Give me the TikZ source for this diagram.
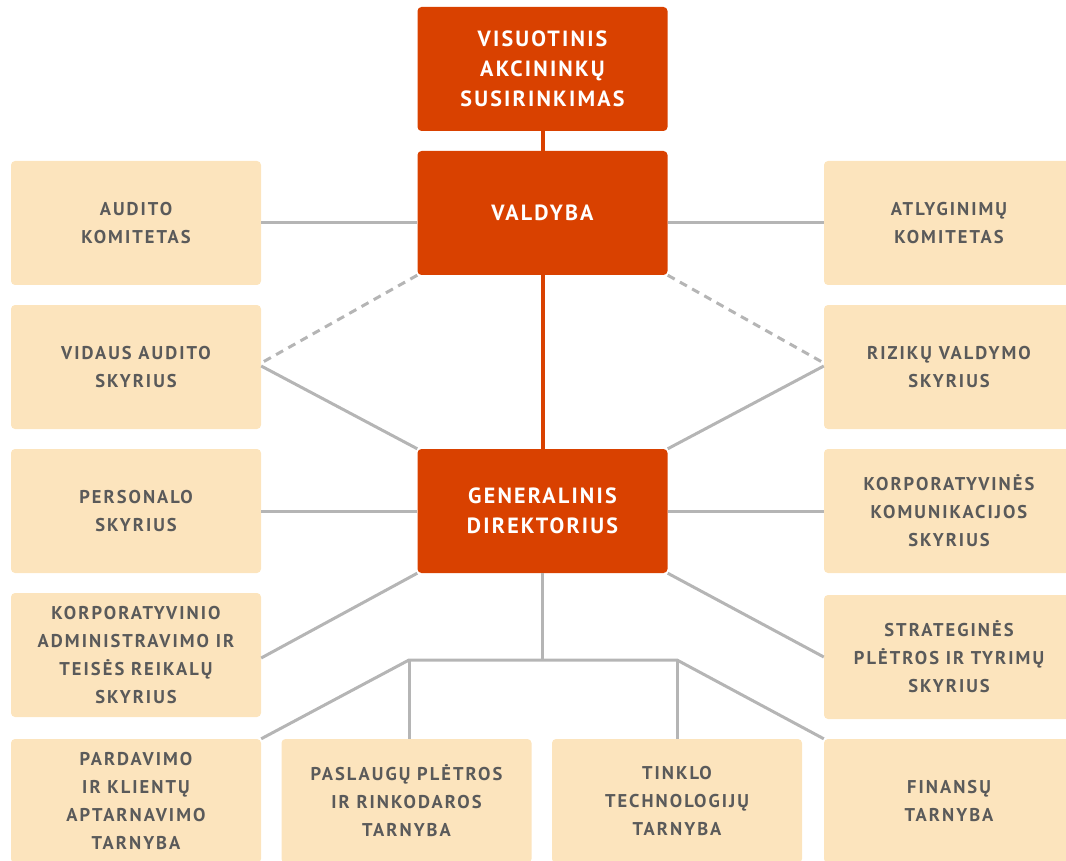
\documentclass[tikz,border=0pt]{standalone}
\usepackage{fontspec}
\setmainfont{PT Sans}
\newfontfamily\boxfont{PT Sans}[LetterSpace=11]
\newfontfamily\oboxfont{PT Sans}[LetterSpace=10]
\definecolor{org}{HTML}{D94100}
\definecolor{bei}{HTML}{FCE4BD}
\definecolor{txt}{HTML}{5A5A5A}
\definecolor{ln}{HTML}{B5B5B5}
\begin{document}
\begin{tikzpicture}[x=1pt,y=-1pt,
 box/.style={rectangle, rounded corners=4pt, minimum width=250pt, minimum height=124pt, inner sep=0pt, align=center, font=\boxfont\bfseries\fontsize{18.5}{28}\selectfont, text=txt, fill=bei},
 obox/.style={box, fill=org, text=white, font=\oboxfont\bfseries\fontsize{22}{30}\selectfont},
 gl/.style={draw=ln, line width=3pt},
 ol/.style={draw=org, line width=4pt},
 dl/.style={gl, dash pattern=on 8pt off 6pt}]
\useasboundingbox (0,0) rectangle (1066,861);
% orange
\node[obox] (top) at (542.5,69) {VISUOTINIS\\AKCININKŲ\\SUSIRINKIMAS};
\node[obox] (val) at (542.5,213) {VALDYBA};
\node[obox] (gen) at (542.5,511) {GENERALINIS\\DIREKTORIUS};
% left
\node[box] (aud) at (136,223) {AUDITO\\KOMITETAS};
\node[box] (vid) at (136,367) {VIDAUS AUDITO\\SKYRIUS};
\node[box] (per) at (136,511) {PERSONALO\\SKYRIUS};
\node[box] (kor) at (136,655) {KORPORATYVINIO\\ADMINISTRAVIMO IR\\TEISĖS REIKALŲ\\SKYRIUS};
\node[box] (par) at (136,801) {PARDAVIMO\\IR KLIENTŲ\\APTARNAVIMO\\TARNYBA};
% right
\node[box] (atl) at (949,223) {ATLYGINIMŲ\\KOMITETAS};
\node[box] (riz) at (949,367) {RIZIKŲ VALDYMO\\SKYRIUS};
\node[box] (kom) at (949,511) {KORPORATYVINĖS\\KOMUNIKACIJOS\\SKYRIUS};
\node[box] (str) at (949,657) {STRATEGINĖS\\PLĖTROS IR TYRIMŲ\\SKYRIUS};
\node[box] (fin) at (949,801) {FINANSŲ\\TARNYBA};
% bottom middle
\node[box] (pas) at (406.5,801) {PASLAUGŲ PLĖTROS\\IR RINKODAROS\\TARNYBA};
\node[box] (tin) at (677,801) {TINKLO\\TECHNOLOGIJŲ\\TARNYBA};
% connectors
\draw[ol] (top) -- (val);
\draw[ol] (val) -- (gen);
\draw[gl] (aud.east) -- (aud.east -| val.west);
\draw[gl] (atl.west) -- (atl.west -| val.east);
\draw[dl] (val.south west) -- ([yshift=4pt]vid.east);
\draw[dl] (val.south east) -- ([yshift=4pt]riz.west);
\draw[gl] ([yshift=1pt]vid.east) -- (gen.north west);
\draw[gl] ([yshift=1pt]riz.west) -- (gen.north east);
\draw[gl] (per.east) -- (gen.west);
\draw[gl] (kom.west) -- (gen.east);
\draw[gl] (gen.south west) -- ([yshift=-3pt]kor.east);
\draw[gl] (gen.south east) -- (str.west);
\coordinate (jl) at (409,660);
\coordinate (jr) at (677,660);
\coordinate (jm) at (542.5,660);
\draw[gl] (gen.south) -- (jm);
\draw[gl] (par.north east) -- (jl) -- (jr) -- (fin.north west);
\draw[gl] (jl) -- (jl |- pas.north);
\draw[gl] (jr) -- (tin.north);
\end{tikzpicture}
\end{document}
